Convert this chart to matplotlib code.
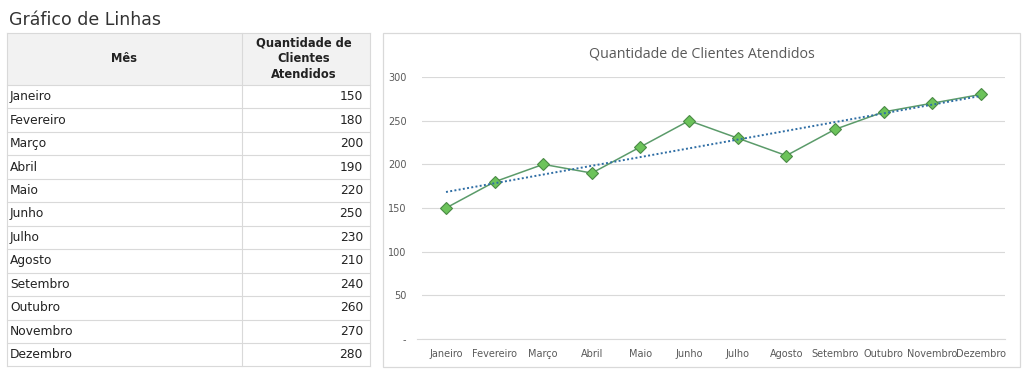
import numpy as np
import matplotlib
matplotlib.use('Agg')
from matplotlib import pyplot as plt
from matplotlib.patches import Rectangle

meses = ['Janeiro', 'Fevereiro', 'Março', 'Abril', 'Maio', 'Junho',
         'Julho', 'Agosto', 'Setembro', 'Outubro', 'Novembro', 'Dezembro']
clientes = [150, 180, 200, 190, 220, 250, 230, 210, 240, 260, 270, 280]
yticks = [0, 50, 100, 150, 200, 250, 300]
ytick_labels = ['-', '50', '100', '150', '200', '250', '300']

W, H = 1024, 373
fig = plt.figure(figsize=(W / 100, H / 100), dpi=100)
fig.patch.set_facecolor('white')

# table / background drawn in pixel coordinates
bg = fig.add_axes([0, 0, 1, 1])
bg.set_xlim(0, W)
bg.set_ylim(H, 0)
bg.axis('off')

tfont = ['DejaVu Sans']
bg.text(9, 20, 'Gráfico de Linhas', fontsize=12.5, family=tfont, color='#333333', va='center')

x0, x1, x2 = 7, 242, 370
y_head, y_body, row_h = 33, 85, 23.45
grid_c = '#d9d9d9'
bg.add_patch(Rectangle((x0, y_head), x2 - x0, y_body - y_head, facecolor='#f2f2f2', edgecolor='none'))
bg.text((x0 + x1) / 2, (y_head + y_body) / 2, 'Mês', fontsize=8.3, fontweight='bold',
        family=tfont, ha='center', va='center', color='#222222')
bg.text((x1 + x2) / 2 - 2, (y_head + y_body) / 2, 'Quantidade de\nClientes\nAtendidos', fontsize=8.3,
        fontweight='bold', family=tfont, ha='center', va='center', color='#222222', linespacing=1.3)
y_end = y_body + row_h * len(meses)
for i, (m, v) in enumerate(zip(meses, clientes)):
    yc = y_body + row_h * (i + 0.5)
    bg.text(x0 + 3, yc, m, fontsize=8.8, family=tfont, va='center', color='#222222')
    bg.text(x2 - 7, yc, str(v), fontsize=8.8, family=tfont, va='center', ha='right', color='#222222')
for k in range(len(meses) + 1):
    y = y_body + row_h * k
    bg.plot([x0, x2], [y, y], color=grid_c, lw=0.8)
bg.plot([x0, x2], [y_head, y_head], color=grid_c, lw=0.8)
for x in (x0, x1, x2):
    bg.plot([x, x], [y_head, y_end], color=grid_c, lw=0.8)

# chart frame
bg.add_patch(Rectangle((383, 33), 637, 334, facecolor='white', edgecolor='#d9d9d9', lw=0.9))
bg.text(702, 54, 'Quantidade de Clientes Atendidos', fontsize=10.3, family=['Open Sans', 'DejaVu Sans'],
        ha='center', va='center', color='#595959')

# line chart
ax = fig.add_axes([421.7 / W, 1 - 339 / H, 583.4 / W, 262 / H])
ax.set_facecolor('none')
x = np.arange(len(meses))
ax.plot(x, clientes, color='#5b9b6a', lw=1.1, marker='D', markersize=6.5,
        markerfacecolor='#6cc35a', markeredgecolor='#4a8a45', markeredgewidth=0.8, zorder=3)
coef = np.polyfit(x, clientes, 1)
ax.plot(x, np.polyval(coef, x), color='#2e6da4', lw=1.4, ls=(0, (1, 1.2)), zorder=4)

ax.set_xlim(-0.5, len(meses) - 0.5)
ax.set_ylim(0, 300)
ax.set_yticks(yticks)
ax.set_yticklabels(ytick_labels)
ax.set_xticks(x)
ax.set_xticklabels(meses)
nfont = ['Liberation Sans Narrow', 'DejaVu Sans']
for lab in ax.get_xticklabels() + ax.get_yticklabels():
    lab.set_family(nfont)
    lab.set_fontsize(7)
    lab.set_color('#595959')
ax.tick_params(length=0)
ax.tick_params(axis='y', pad=11)
ax.tick_params(axis='x', pad=7)
ax.grid(axis='y', color='#d9d9d9', lw=0.8)
ax.set_axisbelow(True)
for s in ax.spines.values():
    s.set_visible(False)
ax.plot([-0.5 - 0.1, len(meses) - 0.5], [0, 0], color='#d9d9d9', lw=0.8, clip_on=False)

fig.savefig('out.png', dpi=100)
